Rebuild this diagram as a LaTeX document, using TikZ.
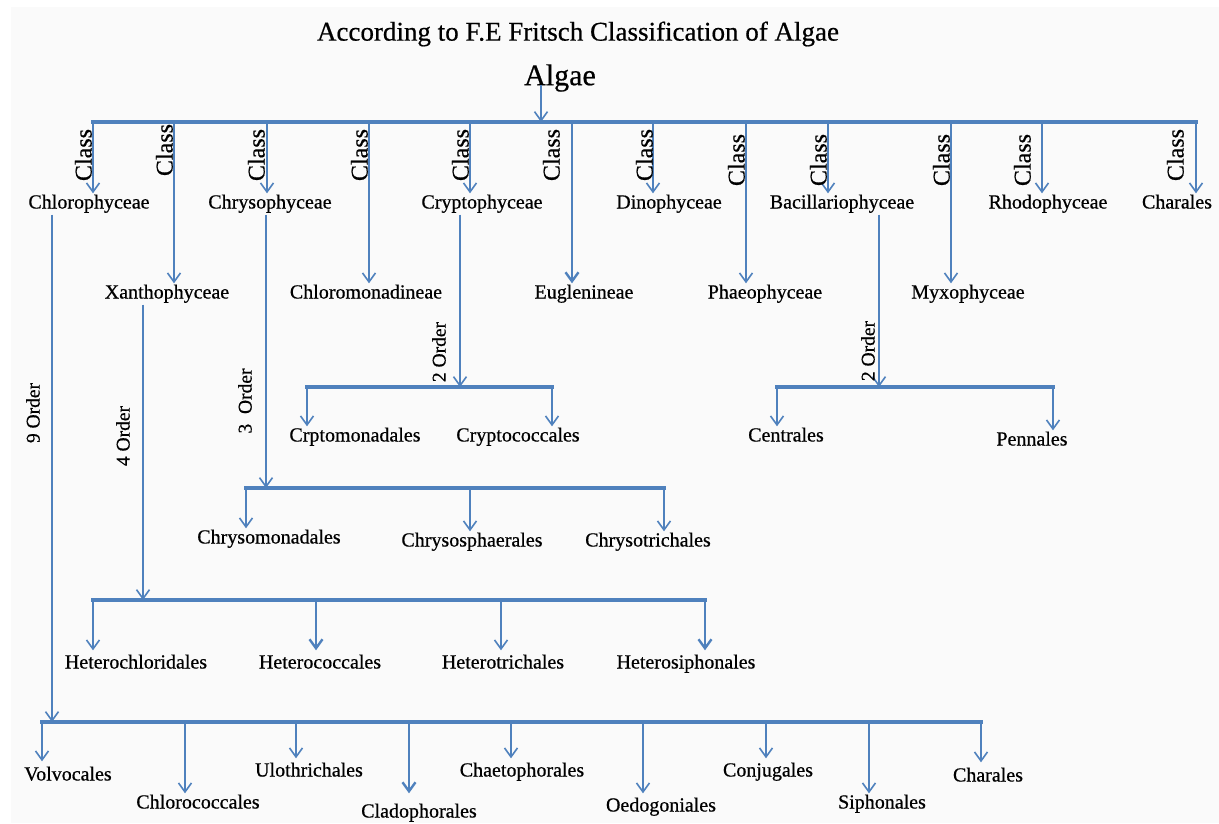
\documentclass[tikz,border=0pt]{standalone}
\usepackage{fontspec}
\setmainfont{Liberation Serif}[FakeBold=0.6]
\usepackage{xcolor}
\usetikzlibrary{arrows.meta,calc}

\definecolor{algblue}{RGB}{79,129,189}

\begin{document}
\begin{tikzpicture}[x=1pt,y=-1pt,
  taxon/.style={font=\fontsize{20}{22}\selectfont, inner sep=1pt,
                text height=14pt, text depth=5pt},
  classlbl/.style={font=\fontsize{24}{26}\selectfont, rotate=90,
                   anchor=south, inner sep=0pt},
  orderlbl/.style={font=\fontsize{19.5}{21}\selectfont, rotate=90,
                   anchor=south, inner sep=0pt},
  bar/.style={draw=algblue, line width=4pt, line cap=rect},
  drop/.style={draw=algblue, line width=1.6pt,
               -{Straight Barb[length=9pt,width=13pt]}},
  fatdrop/.style={drop, line width=2.4pt}]

% Canvas
\useasboundingbox (0,0) rectangle (1219,823);
\fill[black!2] (11,7) rectangle (1219,823);

% Heading
\node (title) at (578,34)
  {\fontsize{27}{30}\selectfont According to F.E Fritsch Classification of Algae};
\node[inner sep=0pt] (algae) at (560,78) {\fontsize{30}{32}\selectfont Algae};

% Main bar
\coordinate (root) at (541,122);
\coordinate (k1) at (93,122);
\coordinate (k2) at (174,122);
\coordinate (k3) at (267,122);
\coordinate (k4) at (369,122);
\coordinate (k5) at (470,122);
\coordinate (k6) at (572,122);
\coordinate (k7) at (653,122);
\coordinate (k8) at (746,122);
\coordinate (k9) at (828,122);
\coordinate (k10) at (951,122);
\coordinate (k11) at (1042,122);
\coordinate (k12) at (1196,122);

\draw[bar] (k1) -- (k12);
\draw[drop] ($(root |- algae.south)+(0,-7)$) -- (root);

% Classes
\node[taxon] (chloro)    at (89,204)   {Chlorophyceae};
\node[taxon] (xantho)    at (167,294)  {Xanthophyceae};
\node[taxon] (chryso)    at (270,204)  {Chrysophyceae};
\node[taxon] (chloromon) at (366,294)  {Chloromonadineae};
\node[taxon] (crypto)    at (482,204)  {Cryptophyceae};
\node[taxon] (eugl)      at (584,294)  {Euglenineae};
\node[taxon] (dino)      at (669,204)  {Dinophyceae};
\node[taxon] (phaeo)     at (765,294)  {Phaeophyceae};
\node[taxon] (bacil)     at (842,204)  {Bacillariophyceae};
\node[taxon] (myxo)      at (968,294)  {Myxophyceae};
\node[taxon] (rhodo)     at (1048,204) {Rhodophyceae};
\node[taxon] (chara)     at (1177,204) {Charales};

\draw[drop] (k1) -- (k1 |- chloro.north);
\draw[drop] (k2) -- (k2 |- xantho.north);
\draw[drop] (k3) -- (k3 |- chryso.north);
\draw[drop] (k4) -- (k4 |- chloromon.north);
\draw[drop] (k5) -- (k5 |- crypto.north);
\draw[fatdrop] (k6) -- (k6 |- eugl.north);
\draw[drop] (k7) -- (k7 |- dino.north);
\draw[drop] (k8) -- (k8 |- phaeo.north);
\draw[drop] (k9) -- (k9 |- bacil.north);
\draw[drop] (k10) -- (k10 |- myxo.north);
\draw[drop] (k11) -- (k11 |- rhodo.north);
\draw[drop] (k12) -- (k12 |- chara.north);

\node[classlbl] (cls1)  at (92,155)   {Class};
\node[classlbl] (cls2)  at (173,150)  {Class};
\node[classlbl] (cls3)  at (265,155)  {Class};
\node[classlbl] (cls4)  at (368,155)  {Class};
\node[classlbl] (cls5)  at (469,155)  {Class};
\node[classlbl] (cls6)  at (560,155)  {Class};
\node[classlbl] (cls7)  at (653,155)  {Class};
\node[classlbl] (cls8)  at (745,160)  {Class};
\node[classlbl] (cls9)  at (827,160)  {Class};
\node[classlbl] (cls10) at (950,160)  {Class};
\node[classlbl] (cls11) at (1031,160) {Class};
\node[classlbl] (cls12) at (1184,155) {Class};

% Cryptophyceae orders
\coordinate (crtop) at (460,387);
\coordinate (cr1) at (307,387);
\coordinate (cr2) at (552,387);
\node[taxon] (crptomon)  at (355,437) {Crptomonadales};
\node[taxon] (cryptococ) at (518,437) {Cryptococcales};
\draw[bar] (cr1) -- (cr2);
\draw[drop] (crtop |- crypto.south) -- (crtop);
\draw[drop] (cr1) -- (cr1 |- crptomon.north);
\draw[drop] (cr2) -- (cr2 |- cryptococ.north);
\node[orderlbl] (ordcr) at (446,352) {2 Order};

% Bacillariophyceae orders
\coordinate (batop) at (879,387);
\coordinate (ba1) at (777,387);
\coordinate (ba2) at (1053,387);
\node[taxon] (centr) at (786,437)  {Centrales};
\node[taxon] (penn)  at (1032,441) {Pennales};
\draw[bar] (ba1) -- (ba2);
\draw[drop] (batop |- bacil.south) -- (batop);
\draw[drop] (ba1) -- (ba1 |- centr.north);
\draw[drop] (ba2) -- (ba2 |- penn.north);
\node[orderlbl] (ordba) at (875,351) {2 Order};

% Chrysophyceae orders
\coordinate (chtop) at (266,488);
\coordinate (ch1) at (246,488);
\coordinate (ch2) at (470,488);
\coordinate (ch3) at (664,488);
\node[taxon] (chrysomon) at (269,539) {Chrysomonadales};
\node[taxon] (chrysosph) at (472,542) {Chrysosphaerales};
\node[taxon] (chrysotr)  at (648,542) {Chrysotrichales};
\draw[bar] (ch1) -- (ch3);
\draw[drop] (chtop |- chryso.south) -- (chtop);
\draw[drop] (ch1) -- (ch1 |- chrysomon.north);
\draw[drop] (ch2) -- (ch2 |- chrysosph.north);
\draw[drop] (ch3) -- (ch3 |- chrysotr.north);
\node[orderlbl] (ordch) at (252,401) {3~~Order};

% Xanthophyceae orders
\coordinate (xatop) at (143,600);
\coordinate (xa1) at (93,600);
\coordinate (xa2) at (316,600);
\coordinate (xa3) at (501,600);
\coordinate (xa4) at (705,600);
\node[taxon] (hchlor) at (136,664) {Heterochloridales};
\node[taxon] (hcoc)   at (320,664) {Heterococcales};
\node[taxon] (htri)   at (503,664) {Heterotrichales};
\node[taxon] (hsiph)  at (686,664) {Heterosiphonales};
\draw[bar] (xa1) -- (xa4);
\draw[drop] (xatop |- xantho.south) -- (xatop);
\draw[drop, shorten >=3pt] (xa1) -- (xa1 |- hchlor.north);
\draw[fatdrop, shorten >=3pt] (xa2) -- (xa2 |- hcoc.north);
\draw[drop, shorten >=3pt] (xa3) -- (xa3 |- htri.north);
\draw[fatdrop, shorten >=3pt] (xa4) -- (xa4 |- hsiph.north);
\node[orderlbl] (ordxa) at (130,436) {4 Order};

% Chlorophyceae orders
\coordinate (cltop) at (52,722);
\coordinate (cl1) at (42,722);
\coordinate (cl2) at (185,722);
\coordinate (cl3) at (296,722);
\coordinate (cl4) at (409,722);
\coordinate (cl5) at (511,722);
\coordinate (cl6) at (643,722);
\coordinate (cl7) at (766,722);
\coordinate (cl8) at (869,722);
\coordinate (cl9) at (981,722);
\node[taxon] (volvo)   at (68,776)  {Volvocales};
\node[taxon] (chlcoc)  at (198,804) {Chlorococcales};
\node[taxon] (ulo)     at (309,772) {Ulothrichales};
\node[taxon] (clado)   at (419,813) {Cladophorales};
\node[taxon] (chaeto)  at (522,772) {Chaetophorales};
\node[taxon] (oedo)    at (661,807) {Oedogoniales};
\node[taxon] (conj)    at (768,772) {Conjugales};
\node[taxon] (sipho)   at (882,804) {Siphonales};
\node[taxon] (charord) at (988,777) {Charales};
\draw[bar] (cl1) -- (cl9);
\draw[drop] (cltop |- chloro.south) -- (cltop);
\draw[drop, shorten >=4pt] (cl1) -- (cl1 |- volvo.north);
\draw[drop] (cl2) -- (cl2 |- chlcoc.north);
\draw[drop, shorten >=3pt] (cl3) -- (cl3 |- ulo.north);
\draw[fatdrop, shorten >=9pt] (cl4) -- (cl4 |- clado.north);
\draw[drop, shorten >=3pt] (cl5) -- (cl5 |- chaeto.north);
\draw[drop, shorten >=3pt] (cl6) -- (cl6 |- oedo.north);
\draw[drop, shorten >=3pt] (cl7) -- (cl7 |- conj.north);
\draw[drop] (cl8) -- (cl8 |- sipho.north);
\draw[drop, shorten >=4pt] (cl9) -- (cl9 |- charord.north);
\node[orderlbl] (ordcl) at (40,413) {9 Order};

\end{tikzpicture}
\end{document}
